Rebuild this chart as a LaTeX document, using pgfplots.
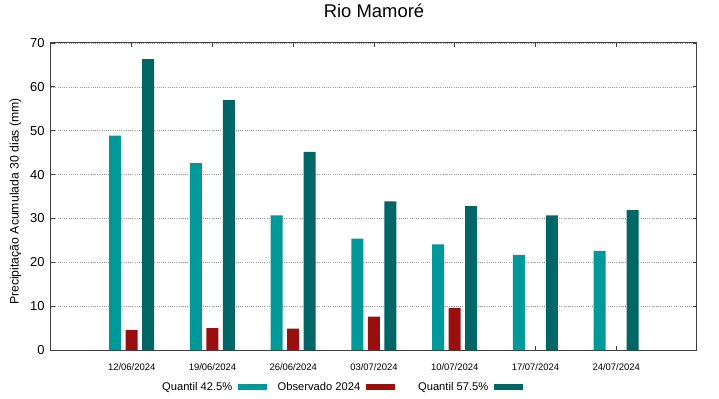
\documentclass[border=0pt]{standalone}
\usepackage{pgfplots}
\pgfplotsset{compat=1.18}
\usepackage{fontspec}
\setmainfont{Liberation Sans}
\definecolor{qlow}{HTML}{009999}
\definecolor{obs}{HTML}{990F0F}
\definecolor{qhigh}{HTML}{006666}
\pgfplotsset{lg/.style={legend image code/.code={\fill[##1,draw=none] (0bp,-3bp) rectangle (29bp,3bp);}}}
\newcommand{\lt}[1]{\makebox[82bp][r]{#1}}
\begin{document}
\begin{tikzpicture}
\useasboundingbox (-51bp,-49bp) rectangle (668bp,350bp);
\begin{axis}[
  at={(0,0)}, anchor=south west,
  scale only axis, width=646bp, height=307bp,
  xmin=-1, xmax=7, ymin=0, ymax=70,
  ytick={0,10,...,70},
  xtick={0,...,6},
  xticklabels={12/06/2024,19/06/2024,26/06/2024,03/07/2024,10/07/2024,17/07/2024,24/07/2024},
  tick align=inside, major tick length=4bp,
  tick style={black!75, line width=0.8bp},
  axis line style={black!75, line width=1bp},
  ymajorgrids,
  grid style={gray!80, line width=0.7bp, dash pattern=on 1bp off 1.2bp},
  /pgf/number format/assume math mode=true,
  yticklabel style={font=\fontsize{13}{13}\selectfont, xshift=-3bp},
  xticklabel style={font=\fontsize{9.5}{9.5}\selectfont, yshift=-10bp},
  ylabel={Precipitação Acumulada 30 dias (mm)},
  ylabel style={at={(axis description cs:-0.055,0.484)}, anchor=center, font=\fontsize{12.3}{12.3}\selectfont},
  title={Rio Mamoré},
  title style={at={(axis description cs:0.5,1)}, anchor=center, yshift=26bp, font=\fontsize{18.5}{18.5}\selectfont},
  legend plot pos=right,
  legend columns=3,
  legend style={at={(axis description cs:0.4408,-0.1205)}, anchor=center, draw=none, fill=none,
    font=\fontsize{11.2}{11.2}\selectfont,
    /tikz/every odd column/.append style={column sep=4bp},
    /tikz/every even column/.append style={column sep=9bp}},
]
\addplot[ybar, lg, bar width=12bp, bar shift=-16.5bp, fill=qlow, draw=none] coordinates {
 (0,48.9) (1,42.6) (2,30.7) (3,25.4) (4,24.1) (5,21.7) (6,22.6)};
\addlegendentry{\lt{Quantil 42.5\%}}
\addplot[ybar, lg, bar width=12bp, bar shift=0bp, fill=obs, draw=none] coordinates {
 (0,4.6) (1,5.0) (2,4.9) (3,7.6) (4,9.6)};
\addlegendentry{\lt{Observado 2024}}
\addplot[ybar, lg, bar width=12bp, bar shift=16.5bp, fill=qhigh, draw=none] coordinates {
 (0,66.3) (1,57.0) (2,45.2) (3,33.9) (4,32.8) (5,30.7) (6,31.9)};
\addlegendentry{\lt{Quantil 57.5\%}}
\end{axis}
\end{tikzpicture}
\end{document}
